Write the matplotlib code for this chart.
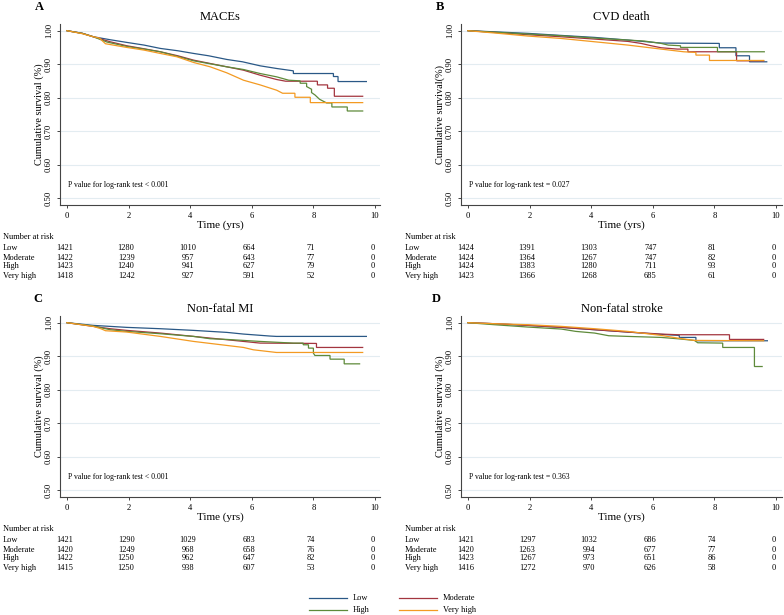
import matplotlib
matplotlib.use('Agg')
import matplotlib.pyplot as plt
from matplotlib.lines import Line2D
from matplotlib.transforms import blended_transform_factory

plt.rcParams['font.family'] = ['Liberation Serif', 'DejaVu Serif']

W, H = 784, 615

groups = ['Low', 'Moderate', 'High', 'Very high']
colors = ['#2a5886', '#a3353f', '#5e8a3a', '#f39a22']
risk_times = [0, 2, 4, 6, 8, 10]
xticks = [0, 2, 4, 6, 8, 10]
yticks = [0.5, 0.6, 0.7, 0.8, 0.9, 1.0]

# Curve vertices (repeated times = vertical drops)
# ---------------- Panel A: MACEs ----------------
a_low_t = [0, 0.5, 0.85, 1.4, 1.94, 2.5, 3.03, 3.6, 4.11, 4.6, 5.19, 5.7, 6.27, 6.81, 7.35, 7.35, 8.65, 8.65, 8.8, 8.8, 9.72]
a_low_s = [1.0, 0.992, 0.982, 0.973, 0.965, 0.957, 0.947, 0.940, 0.932, 0.925, 0.914, 0.907, 0.895, 0.887, 0.880, 0.872, 0.872, 0.863, 0.863, 0.848, 0.848]
a_mod_t = [0, 0.5, 0.85, 1.4, 1.94, 2.5, 3.03, 3.6, 4.11, 4.65, 5.19, 5.73, 6.27, 6.81, 7.1, 8.13, 8.13, 8.46, 8.46, 8.68, 8.68, 9.6]
a_mod_s = [1.0, 0.992, 0.982, 0.967, 0.955, 0.946, 0.937, 0.925, 0.912, 0.902, 0.892, 0.882, 0.867, 0.854, 0.849, 0.849, 0.838, 0.838, 0.828, 0.828, 0.804, 0.804]
a_high_t = [0, 0.5, 0.85, 1.3, 1.94, 2.5, 3.03, 3.6, 4.11, 4.65, 5.19, 5.73, 6.27, 6.81, 7.2, 7.57, 7.57, 7.78, 7.78, 7.94, 7.94, 8.05, 8.2, 8.43, 8.6, 8.6, 9.1, 9.1, 9.6]
a_high_s = [1.0, 0.992, 0.982, 0.966, 0.953, 0.945, 0.937, 0.923, 0.910, 0.901, 0.892, 0.884, 0.872, 0.862, 0.852, 0.850, 0.843, 0.843, 0.833, 0.825, 0.815, 0.808, 0.795, 0.784, 0.784, 0.772, 0.772, 0.760, 0.760]
a_vh_t = [0, 0.5, 0.85, 1.05, 1.25, 1.94, 2.5, 3.03, 3.57, 4.11, 4.65, 5.19, 5.73, 6.27, 6.81, 7.0, 7.4, 7.4, 7.9, 7.9, 9.6]
a_vh_s = [1.0, 0.991, 0.982, 0.978, 0.961, 0.950, 0.942, 0.932, 0.922, 0.905, 0.892, 0.874, 0.852, 0.838, 0.822, 0.813, 0.813, 0.801, 0.801, 0.785, 0.785]
a_risk_low = [1421, 1280, 1010, 664, 71, 0]
a_risk_mod = [1422, 1239, 957, 643, 77, 0]
a_risk_high = [1423, 1240, 941, 627, 79, 0]
a_risk_vh = [1418, 1242, 927, 591, 52, 0]

# ---------------- Panel B: CVD death ----------------
b_low_t = [0, 1.0, 1.94, 3.0, 4.1, 5.19, 6.27, 8.16, 8.16, 8.7, 8.7, 9.14, 9.14, 9.7]
b_low_s = [1.0, 0.996, 0.992, 0.986, 0.980, 0.972, 0.963, 0.962, 0.949, 0.949, 0.925, 0.925, 0.907, 0.907]
b_mod_t = [0, 1.0, 1.94, 3.0, 4.1, 5.19, 5.62, 5.95, 6.27, 6.8, 7.14, 7.14, 8.72, 8.72, 9.6]
b_mod_s = [1.0, 0.994, 0.988, 0.982, 0.975, 0.968, 0.962, 0.955, 0.949, 0.945, 0.945, 0.937, 0.937, 0.910, 0.910]
b_high_t = [0, 1.0, 1.94, 3.0, 4.1, 5.19, 5.73, 6.27, 6.5, 6.9, 6.9, 8.1, 8.1, 9.62]
b_high_s = [1.0, 0.995, 0.990, 0.985, 0.978, 0.972, 0.969, 0.962, 0.957, 0.955, 0.950, 0.950, 0.937, 0.937]
b_vh_t = [0, 1.0, 1.94, 3.0, 4.1, 5.19, 6.27, 7.0, 7.4, 7.4, 7.84, 7.84, 9.6]
b_vh_s = [1.0, 0.992, 0.984, 0.977, 0.967, 0.957, 0.945, 0.937, 0.935, 0.927, 0.927, 0.911, 0.911]
b_risk_low = [1424, 1391, 1303, 747, 81, 0]
b_risk_mod = [1424, 1364, 1267, 747, 82, 0]
b_risk_high = [1424, 1383, 1280, 711, 93, 0]
b_risk_vh = [1423, 1366, 1268, 685, 61, 0]

# ---------------- Panel C: Non-fatal MI ----------------
c_low_t = [0, 0.85, 1.94, 3.03, 4.11, 5.19, 5.73, 6.6, 6.8, 9.72]
c_low_s = [1.0, 0.992, 0.986, 0.982, 0.977, 0.971, 0.966, 0.960, 0.959, 0.959]
c_mod_t = [0, 0.85, 1.4, 1.94, 3.03, 4.11, 4.65, 5.19, 5.73, 6.27, 8.1, 8.1, 9.6]
c_mod_s = [1.0, 0.989, 0.982, 0.977, 0.969, 0.959, 0.954, 0.949, 0.944, 0.939, 0.938, 0.926, 0.926]
c_high_t = [0, 0.85, 1.4, 1.94, 3.03, 4.11, 4.65, 5.19, 6.27, 7.35, 7.67, 7.67, 7.84, 7.84, 8.0, 8.0, 8.05, 8.54, 8.54, 9.0, 9.0, 9.5]
c_high_s = [1.0, 0.990, 0.979, 0.974, 0.967, 0.959, 0.952, 0.950, 0.944, 0.939, 0.939, 0.934, 0.934, 0.924, 0.924, 0.909, 0.902, 0.902, 0.891, 0.891, 0.877, 0.877]
c_vh_t = [0, 0.85, 1.1, 1.25, 1.94, 3.03, 4.11, 5.19, 5.73, 6.05, 6.8, 9.6]
c_vh_s = [1.0, 0.989, 0.982, 0.976, 0.972, 0.959, 0.944, 0.932, 0.926, 0.919, 0.911, 0.911]
c_risk_low = [1421, 1290, 1029, 683, 74, 0]
c_risk_mod = [1420, 1249, 968, 658, 76, 0]
c_risk_high = [1422, 1250, 962, 647, 82, 0]
c_risk_vh = [1415, 1250, 938, 607, 53, 0]

# ---------------- Panel D: Non-fatal stroke ----------------
d_low_t = [0, 0.85, 1.94, 3.03, 4.11, 5.19, 6.27, 6.86, 6.86, 7.4, 7.4, 9.72]
d_low_s = [1.0, 0.997, 0.992, 0.986, 0.979, 0.972, 0.965, 0.962, 0.956, 0.956, 0.946, 0.946]
d_mod_t = [0, 0.85, 1.94, 3.03, 4.11, 5.19, 6.27, 6.81, 8.49, 8.49, 9.6]
d_mod_s = [1.0, 0.997, 0.992, 0.986, 0.979, 0.972, 0.966, 0.964, 0.964, 0.950, 0.950]
d_high_t = [0, 0.85, 1.94, 3.03, 3.5, 4.11, 4.57, 5.19, 6.27, 6.81, 7.35, 7.46, 8.27, 8.27, 9.3, 9.3, 9.55]
d_high_s = [1.0, 0.994, 0.987, 0.981, 0.974, 0.969, 0.961, 0.959, 0.956, 0.952, 0.947, 0.940, 0.939, 0.926, 0.926, 0.869, 0.869]
d_vh_t = [0, 0.85, 1.94, 3.03, 4.11, 5.19, 6.27, 6.81, 7.35, 9.6]
d_vh_s = [1.0, 0.997, 0.994, 0.989, 0.982, 0.974, 0.962, 0.954, 0.947, 0.946]
d_risk_low = [1421, 1297, 1032, 686, 74, 0]
d_risk_mod = [1420, 1263, 994, 677, 77, 0]
d_risk_high = [1423, 1267, 973, 651, 86, 0]
d_risk_vh = [1416, 1272, 970, 626, 58, 0]

panels = [
    dict(letter='A', title='MACEs', ylabel='Cumulative survival (%)', p='P value for log-rank test < 0.001',
         box=(60, 24, 380, 205), letter_x=39, ylab_x=39, tab_x=3,
         curves=[(a_low_t, a_low_s), (a_mod_t, a_mod_s), (a_high_t, a_high_s), (a_vh_t, a_vh_s)],
         risk=[a_risk_low, a_risk_mod, a_risk_high, a_risk_vh]),
    dict(letter='B', title='CVD death', ylabel='Cumulative survival(%)', p='P value for log-rank test = 0.027',
         box=(461, 24, 782, 205), letter_x=440, ylab_x=440, tab_x=405,
         curves=[(b_low_t, b_low_s), (b_mod_t, b_mod_s), (b_high_t, b_high_s), (b_vh_t, b_vh_s)],
         risk=[b_risk_low, b_risk_mod, b_risk_high, b_risk_vh]),
    dict(letter='C', title='Non-fatal MI', ylabel='Cumulative survival (%)', p='P value for log-rank test < 0.001',
         box=(60, 316, 380, 497), letter_x=38, ylab_x=39, tab_x=3,
         curves=[(c_low_t, c_low_s), (c_mod_t, c_mod_s), (c_high_t, c_high_s), (c_vh_t, c_vh_s)],
         risk=[c_risk_low, c_risk_mod, c_risk_high, c_risk_vh]),
    dict(letter='D', title='Non-fatal stroke', ylabel='Cumulative survival (%)', p='P value for log-rank test = 0.363',
         box=(461, 316, 782, 497), letter_x=436, ylab_x=440, tab_x=405,
         curves=[(d_low_t, d_low_s), (d_mod_t, d_mod_s), (d_high_t, d_high_s), (d_vh_t, d_vh_s)],
         risk=[d_risk_low, d_risk_mod, d_risk_high, d_risk_vh]),
]

fig = plt.figure(figsize=(W / 100, H / 100), dpi=100)
fig.patch.set_facecolor('white')


def fx(x):
    return x / W


def fy(y):
    return 1 - y / H


tick_fs = 6.2
tab_fs = 6.0
for p in panels:
    l, t, r, b = p['box']
    ax = fig.add_axes([fx(l), fy(b), (r - l) / W, (b - t) / H])
    ax.set_xlim(-0.227, -0.227 + (r - l) / 30.8)
    ax.set_ylim(0.479, 1.02)
    for y in yticks:
        ax.axhline(y, color='#e3ecf1', lw=0.8, zorder=0)
    for (tt, ss), c in zip(p['curves'], colors):
        ax.plot(tt, ss, color=c, lw=0.9, solid_joinstyle='miter')
    for side in ['top', 'right']:
        ax.spines[side].set_visible(False)
    for side in ['left', 'bottom']:
        ax.spines[side].set_color('#444444')
        ax.spines[side].set_linewidth(0.8)
    ax.set_xticks(xticks)
    ax.set_xticklabels([str(v) for v in xticks])
    ax.set_yticks(yticks)
    ax.set_yticklabels(['%.2f' % v for v in yticks], rotation=90, va='center')
    ax.tick_params(axis='both', length=2.5, width=0.7, color='#444444', labelsize=tick_fs, pad=2.5)
    ax.text(0.03, 0.54, p['p'], fontsize=5.6, va='center', ha='left')
    cx = (l + r) / 2
    fig.text(fx(cx), fy(t - 7), p['title'], fontsize=9, ha='center', va='center')
    fig.text(fx(p['letter_x']), fy(t - 17), p['letter'], fontsize=9, fontweight='bold', ha='center', va='center')
    fig.text(fx(p['ylab_x']), fy((t + b) / 2), p['ylabel'], fontsize=7.4, rotation=90, ha='center', va='center')
    fig.text(fx(cx), fy(b + 20), 'Time (yrs)', fontsize=8, ha='center', va='center')
    # number at risk table
    tr = blended_transform_factory(ax.transData, fig.transFigure)
    fig.text(fx(p['tab_x']), fy(t + 213), 'Number at risk', fontsize=tab_fs, ha='left', va='center')
    row_y = [224, 233.5, 242.5, 252]
    for g, vals, dy in zip(groups, p['risk'], row_y):
        fig.text(fx(p['tab_x']), fy(t + dy), g, fontsize=tab_fs, ha='left', va='center')
        for tm, v in zip(risk_times, vals):
            ax.text(tm - 0.08, fy(t + dy), str(v), fontsize=tab_fs, ha='center', va='center',
                    transform=tr, clip_on=False)

# legend (drawn manually)
leg_items = [('Low', 309, 598), ('High', 309, 610), ('Moderate', 399, 598), ('Very high', 399, 610)]
leg_colors = {'Low': colors[0], 'Moderate': colors[1], 'High': colors[2], 'Very high': colors[3]}
for name, x0, y0 in leg_items:
    fig.add_artist(Line2D([fx(x0), fx(x0 + 38)], [fy(y0), fy(y0)], color=leg_colors[name], lw=0.9,
                          transform=fig.transFigure))
    fig.text(fx(x0 + 44), fy(y0), name, fontsize=tab_fs, ha='left', va='center')

fig.savefig('out.png', dpi=100, facecolor='white')
